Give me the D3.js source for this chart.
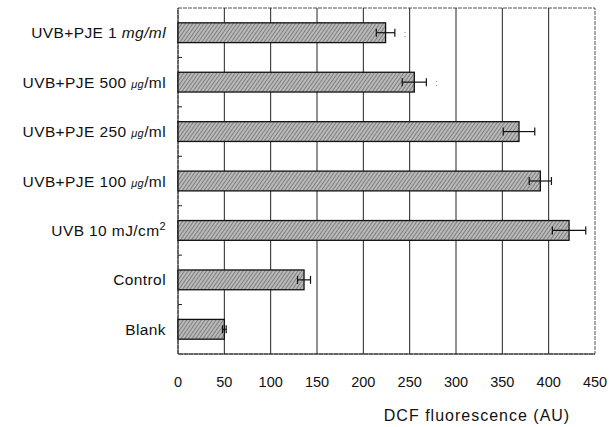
<head><script src="https://d3js.org/d3.v7.min.js"></script></head>
<body style="margin:0;background:#fff">
<svg id="chart" width="611" height="427"></svg>
<script>
// groups top to bottom, DCF fluorescence (AU) and error
var groups = ["UVB+PJE 1 mg/ml", "UVB+PJE 500 μg/ml", "UVB+PJE 250 μg/ml", "UVB+PJE 100 μg/ml", "UVB 10 mJ/cm2", "Control", "Blank"];
var values = [224, 255, 368, 391, 422, 136, 50];
var errors = [10, 13, 17, 12, 18, 7, 2];
var xTicks = [0, 50, 100, 150, 200, 250, 300, 350, 400, 450];

var svg = d3.select("#chart");
var plotLeft = 178, plotRight = 595, plotTop = 8, plotBottom = 354;

var x = d3.scaleLinear().domain([0, 450]).range([plotLeft, plotRight]);
var y = d3.scaleBand().domain(groups).range([plotTop, plotBottom]).paddingInner(0.6).paddingOuter(0.3);

// hatched grey fill
var defs = svg.append("defs");
var pat = defs.append("pattern").attr("id", "hatch").attr("patternUnits", "userSpaceOnUse")
  .attr("width", 3).attr("height", 3).attr("patternTransform", "rotate(35)");
pat.append("rect").attr("width", 3).attr("height", 3).attr("fill", "#bababa");
pat.append("line").attr("x1", 0).attr("y1", 0).attr("x2", 0).attr("y2", 3)
  .attr("stroke", "#5e5e5e").attr("stroke-width", 1.3);

// plot frame
svg.append("rect").attr("x", plotLeft).attr("y", plotTop).attr("width", plotRight - plotLeft).attr("height", plotBottom - plotTop)
  .attr("fill", "none").attr("stroke", "#555").attr("stroke-width", 1).attr("stroke-dasharray", "4,1");

// vertical gridlines
svg.selectAll(".grid").data(xTicks.slice(1, -1)).enter().append("line")
  .attr("x1", d => x(d)).attr("x2", d => x(d)).attr("y1", plotTop).attr("y2", plotBottom)
  .attr("stroke", "#222").attr("stroke-width", 1);

// short tick marks on the left axis between groups
var step = y.step();
svg.selectAll(".ytick").data(groups.slice(1)).enter().append("line")
  .attr("x1", plotLeft).attr("x2", plotLeft + 4)
  .attr("y1", d => y(d) - step * 0.3).attr("y2", d => y(d) - step * 0.3)
  .attr("stroke", "#222");
svg.append("line").attr("x1", plotLeft).attr("x2", plotLeft).attr("y1", plotTop).attr("y2", plotBottom).attr("stroke", "#222");
svg.append("line").attr("x1", plotLeft).attr("x2", plotRight).attr("y1", plotBottom).attr("y2", plotBottom).attr("stroke", "#222");

// bars
svg.selectAll(".bar").data(groups).enter().append("rect")
  .attr("x", x(0)).attr("y", d => y(d))
  .attr("width", (d, i) => x(values[i]) - x(0)).attr("height", y.bandwidth())
  .attr("fill", "url(#hatch)").attr("stroke", "#111").attr("stroke-width", 1.3);

// error bars
groups.forEach(function(g, i) {
  var cy = y(g) + y.bandwidth() / 2;
  var e = svg.append("g").attr("stroke", "#111").attr("stroke-width", 1.2);
  e.append("line").attr("x1", x(values[i] - errors[i])).attr("x2", x(values[i] + errors[i])).attr("y1", cy).attr("y2", cy);
  [values[i] - errors[i], values[i] + errors[i]].forEach(function(v) {
    e.append("line").attr("x1", x(v)).attr("x2", x(v)).attr("y1", cy - 4).attr("y2", cy + 4);
  });
});

var font = "'Liberation Sans', Arial, sans-serif";

// faint marks after the first two bars
[0, 1].forEach(function(i) {
  svg.append("text").attr("x", x(values[i] + errors[i]) + 9).attr("y", y(groups[i]) + y.bandwidth() / 2 + 4)
    .attr("font-size", 9).attr("fill", "#777").attr("font-family", font).text(":");
});

// category labels
var labelParts = [
  [["UVB+PJE 1 ", "normal", 0], ["mg/ml", "italic", 0]],
  [["UVB+PJE 500 ", "normal", 0], ["μg", "italic", 1], ["/ml", "normal", 0]],
  [["UVB+PJE 250 ", "normal", 0], ["μg", "italic", 1], ["/ml", "normal", 0]],
  [["UVB+PJE 100 ", "normal", 0], ["μg", "italic", 1], ["/ml", "normal", 0]],
  [["UVB 10 mJ/cm", "normal", 0], ["2", "normal", 2]],
  [["Control", "normal", 0]],
  [["Blank", "normal", 0]]
];
groups.forEach(function(g, i) {
  var t = svg.append("text").attr("x", 166).attr("y", y(g) + y.bandwidth() / 2 + 5.5)
    .attr("text-anchor", "end").attr("font-family", font).attr("font-size", 15.5)
    .attr("letter-spacing", 0.4).attr("fill", "#111");
  labelParts[i].forEach(function(p) {
    var s = t.append("tspan").text(p[0]).attr("font-style", p[1]);
    if (p[2] === 1) s.attr("font-size", 11);
    if (p[2] === 2) s.attr("font-size", 11).attr("dy", -6);
  });
});

// x tick labels
svg.selectAll(".xl").data(xTicks).enter().append("text")
  .attr("x", d => x(d)).attr("y", 387).attr("text-anchor", "middle")
  .attr("font-family", font).attr("font-size", 14.5).attr("fill", "#111").text(d => d);

svg.append("text").attr("x", 477).attr("y", 421).attr("text-anchor", "middle")
  .attr("font-family", font).attr("font-size", 16).attr("letter-spacing", 1)
  .attr("fill", "#111").text("DCF fluorescence (AU)");
</script>
</body>
